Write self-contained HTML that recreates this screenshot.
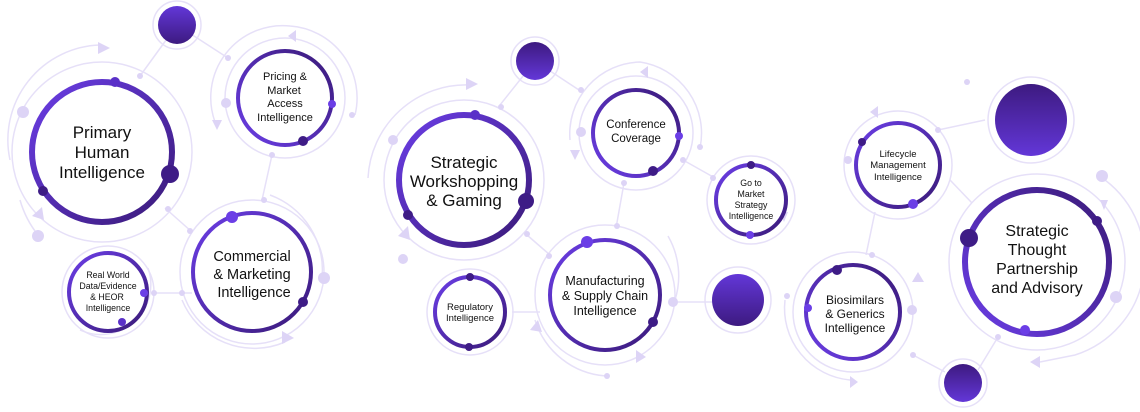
<!DOCTYPE html>
<html><head><meta charset="utf-8"><style>
html,body{margin:0;padding:0;background:#fff;width:1140px;height:412px;overflow:hidden}
svg{display:block}
text{font-family:"Liberation Sans",sans-serif;fill:#111;text-anchor:middle}
</style></head><body>
<svg width="1140" height="412" viewBox="0 0 1140 412">
<defs>
<linearGradient id="g" x1="0" y1="0" x2="1" y2="1"><stop offset="0" stop-color="#6b3ee6"/><stop offset="1" stop-color="#3a1a78"/></linearGradient>
<linearGradient id="g2" x1="0" y1="1" x2="1" y2="0"><stop offset="0" stop-color="#6b3ee6"/><stop offset="1" stop-color="#3a1a78"/></linearGradient>
<linearGradient id="f" x1="0" y1="0" x2="0" y2="1"><stop offset="0" stop-color="#6337d8"/><stop offset="1" stop-color="#3d1a80"/></linearGradient>
<linearGradient id="f2" x1="0" y1="0" x2="0" y2="1"><stop offset="0" stop-color="#3d1a80"/><stop offset="1" stop-color="#6337d8"/></linearGradient>
</defs>
<g stroke="#e6e0f8" stroke-width="1.5" fill="none">
<!-- connector lines -->
<line x1="177" y1="25" x2="140" y2="76"/><line x1="177" y1="25" x2="228" y2="58"/>
<line x1="272" y1="155" x2="262" y2="200"/><line x1="165" y1="208" x2="192" y2="232"/>
<line x1="152" y1="293" x2="192" y2="293"/>
<line x1="535" y1="61" x2="500" y2="105"/><line x1="535" y1="61" x2="582" y2="92"/>
<line x1="624" y1="183" x2="616" y2="228"/><line x1="527" y1="235" x2="550" y2="255"/>
<line x1="512" y1="312" x2="540" y2="312"/><line x1="672" y1="302" x2="712" y2="302"/>
<line x1="683" y1="160" x2="715" y2="178"/>
<line x1="938" y1="130" x2="985" y2="120"/><line x1="950" y1="180" x2="972" y2="203"/>
<line x1="875" y1="212" x2="866" y2="255"/><line x1="998" y1="337" x2="978" y2="370"/>
<line x1="913" y1="355" x2="945" y2="372"/>
<!-- outer faint rings -->
<circle cx="102" cy="152" r="90"/>
<path d="M10 160 A95 95 0 0 1 100 45"/>
<path d="M38 235 A100 100 0 0 1 20 200"/>
<circle cx="285" cy="98" r="60"/>
<path d="M215 122 A72 72 0 0 1 290 26 A72 72 0 0 1 355 115"/>
<circle cx="177" cy="25" r="24"/>
<circle cx="252" cy="272" r="72"/>
<path d="M322 278 A80 80 0 0 0 270 195"/>
<path d="M182 300 A78 78 0 0 0 285 342"/>
<circle cx="108" cy="292" r="46"/>
<path d="M148 268 A50 50 0 0 1 80 330"/>
<circle cx="464" cy="180" r="80"/>
<path d="M368 178 A98 98 0 0 1 470 85"/>
<circle cx="535" cy="61" r="24"/>
<circle cx="636" cy="133" r="57"/>
<path d="M570 140 A72 72 0 0 1 640 62 A72 72 0 0 1 700 148"/>
<circle cx="751" cy="200" r="44"/>
<circle cx="605" cy="295" r="70"/>
<path d="M535 320 A80 80 0 0 0 606 376"/>
<path d="M668 236 A80 80 0 0 1 675 300"/>
<circle cx="470" cy="312" r="43"/>
<circle cx="738" cy="300" r="33"/>
<circle cx="898" cy="165" r="54"/>
<circle cx="1031" cy="120" r="43"/>
<circle cx="1037" cy="262" r="88"/>
<path d="M1105 180 A100 100 0 0 1 1075 355 L1040 362"/>
<circle cx="853" cy="312" r="60"/>
<path d="M785 300 A72 72 0 0 0 850 380"/>
<circle cx="963" cy="383" r="24"/>
</g>
<!-- faint dots -->
<g fill="#ddd4f6">
<circle cx="23" cy="112" r="6"/><circle cx="38" cy="236" r="6"/><circle cx="226" cy="103" r="5"/><circle cx="352" cy="115" r="3"/>
<circle cx="140" cy="76" r="3"/><circle cx="228" cy="58" r="3"/><circle cx="272" cy="155" r="3"/><circle cx="264" cy="200" r="3"/>
<circle cx="168" cy="209" r="3"/><circle cx="190" cy="231" r="3"/><circle cx="324" cy="278" r="6"/><circle cx="154" cy="293" r="3"/><circle cx="182" cy="293" r="3"/>
<circle cx="393" cy="140" r="5"/><circle cx="403" cy="259" r="5"/><circle cx="581" cy="90" r="3"/><circle cx="501" cy="107" r="3"/>
<circle cx="581" cy="132" r="5"/><circle cx="700" cy="147" r="3"/><circle cx="683" cy="160" r="3"/><circle cx="624" cy="183" r="3"/><circle cx="617" cy="226" r="3"/>
<circle cx="527" cy="234" r="3"/><circle cx="549" cy="256" r="3"/><circle cx="673" cy="302" r="5"/><circle cx="607" cy="376" r="3"/><circle cx="713" cy="178" r="3"/>
<circle cx="787" cy="296" r="3"/><circle cx="848" cy="160" r="4"/><circle cx="914" cy="180" r="3"/><circle cx="938" cy="130" r="3"/><circle cx="967" cy="82" r="3"/>
<circle cx="1102" cy="176" r="6"/><circle cx="1116" cy="297" r="6"/><circle cx="912" cy="310" r="5"/><circle cx="998" cy="337" r="3"/><circle cx="872" cy="255" r="3"/><circle cx="913" cy="355" r="3"/>
<!-- arrowheads -->
<polygon points="98,42 110,48 98,54"/><polygon points="32,216 42,207 44,220"/><polygon points="288,36 296,30 296,42"/><polygon points="212,120 222,120 217,130"/>
<polygon points="282,331 294,338 282,344"/><polygon points="466,78 478,84 466,90"/><polygon points="398,236 408,226 410,240"/><polygon points="640,72 648,66 648,78"/>
<polygon points="570,150 580,150 575,160"/><polygon points="530,330 538,320 542,332"/><polygon points="636,350 646,357 636,363"/><polygon points="780,212 788,212 784,222"/>
<polygon points="870,112 878,106 878,118"/><polygon points="918,272 924,282 912,282"/><polygon points="850,376 858,382 850,388"/><polygon points="1100,200 1108,200 1104,210"/>
<polygon points="1030,362 1040,356 1040,368"/>
</g>
<!-- main rings -->
<g fill="#fff" stroke-width="6">
<circle cx="102" cy="152" r="70" stroke="url(#g)"/>
<circle cx="464" cy="180" r="65" stroke="url(#g)"/>
<circle cx="1037" cy="262" r="72" stroke="url(#g2)"/>
</g>
<g fill="#fff" stroke-width="4">
<circle cx="285" cy="98" r="47" stroke="url(#g2)"/>
<circle cx="252" cy="272" r="59" stroke="url(#g)"/>
<circle cx="108" cy="292" r="39" stroke="url(#g)"/>
<circle cx="636" cy="133" r="43" stroke="url(#g2)"/>
<circle cx="751" cy="200" r="35" stroke="url(#g)"/>
<circle cx="605" cy="295" r="55" stroke="url(#g)"/>
<circle cx="470" cy="312" r="35" stroke="url(#g)"/>
<circle cx="898" cy="165" r="42" stroke="url(#g)"/>
<circle cx="853" cy="312" r="47" stroke="url(#g2)"/>
</g>
<!-- filled circles -->
<circle cx="177" cy="25" r="19" fill="url(#f)"/>
<circle cx="535" cy="61" r="19" fill="url(#f2)"/>
<circle cx="738" cy="300" r="26" fill="url(#f)"/>
<circle cx="1031" cy="120" r="36" fill="url(#f2)"/>
<circle cx="963" cy="383" r="19" fill="url(#f2)"/>
<!-- ring dots -->
<g>
<circle cx="115" cy="82" r="5" fill="#5a30c8"/><circle cx="170" cy="174" r="9" fill="#3e1c86"/><circle cx="43" cy="191" r="5" fill="#3e1c86"/>
<circle cx="332" cy="104" r="4" fill="#6b3ee6"/><circle cx="303" cy="141" r="5" fill="#3e1c86"/>
<circle cx="232" cy="217" r="6" fill="#6b3ee6"/><circle cx="303" cy="302" r="5" fill="#3e1c86"/>
<circle cx="144" cy="293" r="4" fill="#6b3ee6"/><circle cx="122" cy="322" r="4" fill="#5a30c8"/>
<circle cx="475" cy="115" r="5" fill="#5a30c8"/><circle cx="526" cy="201" r="8" fill="#3e1c86"/><circle cx="408" cy="215" r="5" fill="#3e1c86"/>
<circle cx="679" cy="136" r="4" fill="#6b3ee6"/><circle cx="653" cy="171" r="5" fill="#3e1c86"/>
<circle cx="751" cy="165" r="4" fill="#3e1c86"/><circle cx="750" cy="235" r="4" fill="#6b3ee6"/>
<circle cx="587" cy="242" r="6" fill="#6b3ee6"/><circle cx="653" cy="322" r="5" fill="#3e1c86"/>
<circle cx="470" cy="277" r="4" fill="#3e1c86"/><circle cx="469" cy="347" r="4" fill="#3e1c86"/>
<circle cx="862" cy="142" r="4" fill="#3e1c86"/><circle cx="913" cy="204" r="5" fill="#6b3ee6"/>
<circle cx="969" cy="238" r="9" fill="#3e1c86"/><circle cx="1097" cy="221" r="5" fill="#3e1c86"/><circle cx="1025" cy="330" r="5" fill="#6b3ee6"/>
<circle cx="837" cy="270" r="5" fill="#3e1c86"/><circle cx="808" cy="308" r="4" fill="#6b3ee6"/>
</g>
<!-- labels -->
<text font-size="17" x="102"><tspan x="102" y="138">Primary</tspan><tspan x="102" y="158">Human</tspan><tspan x="102" y="178">Intelligence</tspan></text>
<text font-size="11"><tspan x="285" y="80">Pricing &amp;</tspan><tspan x="284" y="94">Market</tspan><tspan x="285" y="107">Access</tspan><tspan x="285" y="121">Intelligence</tspan></text>
<text font-size="14.5"><tspan x="252" y="261">Commercial</tspan><tspan x="252" y="279">&amp; Marketing</tspan><tspan x="254" y="297">Intelligence</tspan></text>
<text font-size="8.8"><tspan x="108" y="278">Real World</tspan><tspan x="108" y="289">Data/Evidence</tspan><tspan x="107" y="300">&amp; HEOR</tspan><tspan x="108" y="311">Intelligence</tspan></text>
<text font-size="17"><tspan x="464" y="168">Strategic</tspan><tspan x="464" y="187">Workshopping</tspan><tspan x="464" y="206">&amp; Gaming</tspan></text>
<text font-size="11.5"><tspan x="636" y="128">Conference</tspan><tspan x="636" y="142">Coverage</tspan></text>
<text font-size="8.8"><tspan x="751" y="186">Go to</tspan><tspan x="751" y="197">Market</tspan><tspan x="751" y="208">Strategy</tspan><tspan x="751" y="219">Intelligence</tspan></text>
<text font-size="9.5"><tspan x="470" y="310">Regulatory</tspan><tspan x="470" y="321">Intelligence</tspan></text>
<text font-size="12.5"><tspan x="605" y="285">Manufacturing</tspan><tspan x="605" y="300">&amp; Supply Chain</tspan><tspan x="605" y="315">Intelligence</tspan></text>
<text font-size="9.5"><tspan x="898" y="157">Lifecycle</tspan><tspan x="898" y="168">Management</tspan><tspan x="898" y="180">Intelligence</tspan></text>
<text font-size="16"><tspan x="1037" y="236">Strategic</tspan><tspan x="1037" y="255">Thought</tspan><tspan x="1037" y="274">Partnership</tspan><tspan x="1037" y="293">and Advisory</tspan></text>
<text font-size="12"><tspan x="855" y="304">Biosimilars</tspan><tspan x="855" y="318">&amp; Generics</tspan><tspan x="855" y="332">Intelligence</tspan></text>
</svg>
</body></html>
